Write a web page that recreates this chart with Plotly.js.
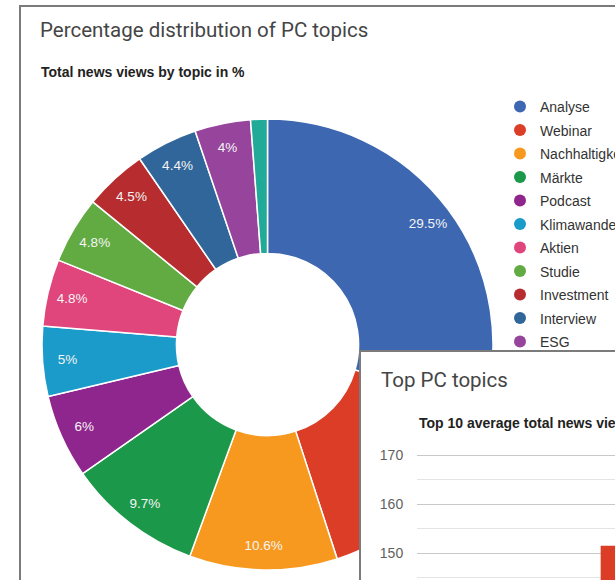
<!DOCTYPE html>
<html><head><meta charset="utf-8">
<script src="https://cdn.plot.ly/plotly-3.0.1.min.js"></script>
<style>
html,body{margin:0;padding:0;width:615px;height:580px;overflow:hidden;background:#fff;}
#card1{position:absolute;left:19px;top:5px;width:900px;height:900px;border:2px solid #7b7b7b;box-sizing:border-box;background:#fff;}
#pie{position:absolute;left:0;top:0;width:800px;height:800px;}
#card2{position:absolute;left:359px;top:350px;width:700px;height:600px;border:2px solid #7b7b7b;box-sizing:border-box;background:#fff;}
#bar{position:absolute;left:0;top:0;width:600px;height:600px;}
</style></head>
<body>
<div id="card1"></div>
<div id="pie"></div>
<div id="card2"><div id="bar"></div></div>
<script>
// ---- data ----
const topics = ['Analyse','Webinar','Nachhaltigkeit','Märkte','Podcast','Klimawandel','Aktien','Studie','Investment','Interview','ESG','Sonstige'];
const shares = [29.5,15.5,10.6,9.7,6,5,4.8,4.8,4.5,4.4,4,1.2];
const topicColors = ['#3d67b1','#dc3d26','#f7991f','#1b9849','#8f268e','#1a9bc9','#e0457b','#62ab43','#b72d2f','#306699','#97449c','#22aa99'];
const barTopics = ['Webinar'];
const barViews = [151.5];
const yMajorTicks = [130, 140, 150, 160, 170];
const yMinorTicks = [135, 145, 155, 165];

// ---- chart 1: donut ----
const W = 800;
const px = v => v / W;
const py = v => 1 - v / W;
const labelText = shares.map(v => v >= 2 ? v + '%' : '');
const pieDomain = {x: [px(42), px(493)], y: [py(570), py(119)]};

const pieTraces = [
  {
    type: 'pie', values: shares, labels: topics, sort: false,
    direction: 'clockwise', rotation: 0, hole: 0.404,
    marker: {colors: topicColors, line: {color: '#ffffff', width: 1.5}},
    textinfo: 'none', showlegend: false, domain: pieDomain,
    hoverinfo: 'label+percent'
  },
  {
    type: 'pie', values: shares, labels: topics, sort: false,
    direction: 'clockwise', rotation: 0, hole: 0.78,
    marker: {colors: topics.map(() => 'rgba(0,0,0,0)'), line: {width: 0}},
    text: labelText, textinfo: 'text', textposition: 'inside',
    insidetextorientation: 'horizontal',
    textfont: {family: 'Liberation Sans, Arial, sans-serif', size: 13.5, color: '#f4f4f4'},
    showlegend: false, domain: pieDomain, hoverinfo: 'skip'
  }
];
const legendTraces = topics.map((t, i) => ({
  type: 'scatter', x: [null], y: [null], mode: 'markers', name: t,
  legendgroup: 'g' + i, marker: {color: topicColors[i], size: 12},
  hoverinfo: 'skip', showlegend: true
}));

Plotly.newPlot('pie', pieTraces.concat(legendTraces), {
  width: 800, height: 800,
  margin: {l: 0, r: 0, t: 0, b: 0},
  paper_bgcolor: 'rgba(0,0,0,0)', plot_bgcolor: 'rgba(0,0,0,0)',
  xaxis: {visible: false}, yaxis: {visible: false},
  title: {text: 'Percentage distribution of PC topics', xref: 'container', yref: 'container',
    x: px(40), xanchor: 'left', y: py(30), yanchor: 'middle',
    font: {family: 'Roboto, sans-serif', size: 20.5, color: '#454545'}},
  annotations: [{text: '<b>Total news views by topic in %</b>', xref: 'paper', yref: 'paper',
    x: px(39), y: py(72), xanchor: 'left', yanchor: 'middle', showarrow: false,
    font: {family: 'Liberation Sans, Arial, sans-serif', size: 14, color: '#222'}}],
  legend: {x: px(500), y: py(91), xanchor: 'left', yanchor: 'top', tracegroupgap: 2.3,
    font: {family: 'Liberation Sans, Arial, sans-serif', size: 14, color: '#333'},
    bgcolor: 'rgba(0,0,0,0)'},
  showlegend: true
}, {staticPlot: true});

// ---- chart 2: bars ----
Plotly.newPlot('bar', [{
  type: 'bar', x: barTopics, y: barViews, marker: {color: '#dc3d26'}, hoverinfo: 'x+y'
}], {
  width: 600, height: 600,
  margin: {l: 56, r: 0, t: 54, b: 301},
  paper_bgcolor: 'rgba(0,0,0,0)', plot_bgcolor: 'rgba(0,0,0,0)',
  bargap: 0.2,
  title: {text: 'Top PC topics', xref: 'container', yref: 'container',
    x: 20 / 600, xanchor: 'left', y: 1 - 28 / 600, yanchor: 'middle',
    font: {family: 'Roboto, sans-serif', size: 20.5, color: '#454545'}},
  annotations: [{text: '<b>Top 10 average total news views by topic</b>', xref: 'paper', yref: 'paper',
    x: 0, y: 1 - 17 / 245, xanchor: 'left', yanchor: 'middle', showarrow: false,
    font: {family: 'Liberation Sans, Arial, sans-serif', size: 14, color: '#222'}}],
  xaxis: {type: 'category', range: [-2.24, 3.21], showgrid: false, zeroline: false, showline: false},
  yaxis: {range: [130, 180], tickmode: 'array', tickvals: yMajorTicks, gridcolor: '#c8c8c8', gridwidth: 1,
    minor: {tickmode: 'array', tickvals: yMinorTicks, showgrid: true, gridcolor: '#e4e4e4', gridwidth: 1, ticks: ''},
    zeroline: false, showline: false, ticks: 'outside', ticklen: 10, tickcolor: 'rgba(0,0,0,0)',
    tickfont: {family: 'Liberation Sans, Arial, sans-serif', size: 14, color: '#5f5f5f'}},
  showlegend: false
}, {staticPlot: true});
</script>
</body></html>
